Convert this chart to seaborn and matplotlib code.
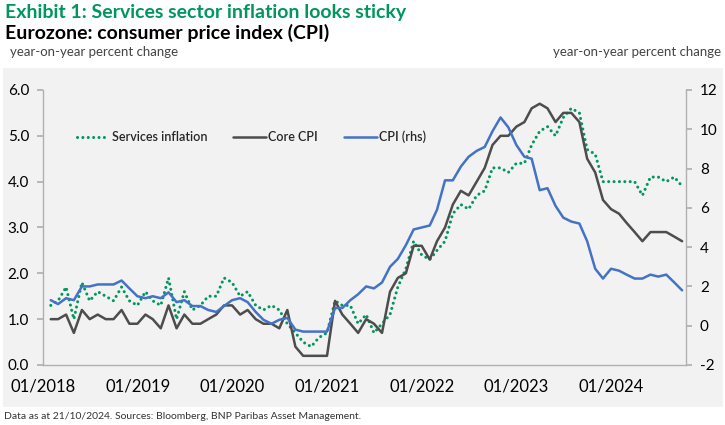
import matplotlib
matplotlib.use("Agg")
import matplotlib.pyplot as plt
import matplotlib.dates as mdates
from matplotlib.patches import Rectangle
from matplotlib.lines import Line2D
import numpy as np
import pandas as pd
import seaborn as sns

# monthly data, Jan 2018 - Sep 2024 (month-end)
months = pd.date_range("2018-01-31", "2024-09-30", freq="ME")

services = [1.3, 1.4, 1.7, 1.0, 1.8, 1.4, 1.6, 1.5, 1.4, 1.7, 1.4, 1.3,
            1.6, 1.4, 1.3, 1.9, 1.0, 1.6, 1.2, 1.3, 1.5, 1.5, 1.9, 1.8,
            1.5, 1.6, 1.3, 1.2, 1.3, 1.2, 0.9, 0.7, 0.5, 0.4, 0.6, 0.7,
            1.4, 1.3, 1.3, 0.9, 1.1, 0.7, 0.9, 1.1, 1.7, 2.1, 2.7, 2.4,
            2.3, 2.5, 2.7, 3.3, 3.5, 3.4, 3.7, 3.8, 4.3, 4.3, 4.2, 4.4,
            4.4, 4.8, 5.1, 5.2, 5.0, 5.4, 5.6, 5.5, 4.7, 4.6, 4.0, 4.0,
            4.0, 4.0, 4.0, 3.7, 4.1, 4.1, 4.0, 4.1, 3.9]

core = [1.0, 1.0, 1.1, 0.7, 1.2, 1.0, 1.1, 1.0, 1.0, 1.2, 0.9, 0.9,
        1.1, 1.0, 0.8, 1.3, 0.8, 1.1, 0.9, 0.9, 1.0, 1.1, 1.3, 1.3,
        1.1, 1.2, 1.0, 0.9, 0.9, 0.8, 1.2, 0.4, 0.2, 0.2, 0.2, 0.2,
        1.4, 1.1, 0.9, 0.7, 1.0, 0.9, 0.7, 1.6, 1.9, 2.0, 2.6, 2.6,
        2.3, 2.7, 3.0, 3.5, 3.8, 3.7, 4.0, 4.3, 4.8, 5.0, 5.0, 5.2,
        5.3, 5.6, 5.7, 5.6, 5.3, 5.5, 5.5, 5.3, 4.5, 4.2, 3.6, 3.4,
        3.3, 3.1, 2.9, 2.7, 2.9, 2.9, 2.9, 2.8, 2.7]

cpi = [1.3, 1.1, 1.4, 1.3, 2.0, 2.0, 2.1, 2.1, 2.1, 2.3, 1.9, 1.5,
       1.4, 1.5, 1.4, 1.7, 1.2, 1.3, 1.0, 1.0, 0.8, 0.7, 1.0, 1.3,
       1.4, 1.2, 0.7, 0.3, 0.1, 0.3, 0.4, -0.2, -0.3, -0.3, -0.3, -0.3,
       0.9, 0.9, 1.3, 1.6, 2.0, 1.9, 2.2, 3.0, 3.4, 4.1, 4.9, 5.0,
       5.1, 5.9, 7.4, 7.4, 8.1, 8.6, 8.9, 9.1, 9.9, 10.6, 10.1, 9.2,
       8.6, 8.5, 6.9, 7.0, 6.1, 5.5, 5.3, 5.2, 4.3, 2.9, 2.4, 2.9,
       2.8, 2.6, 2.4, 2.4, 2.6, 2.5, 2.6, 2.2, 1.8]

left_ticks = [0, 1, 2, 3, 4, 5, 6]
right_ticks = [-2, 0, 2, 4, 6, 8, 10, 12]

GREEN = "#00965e"
GREY = "#4d4d4d"
BLUE = "#4472c4"
AXCOL = "#b0b0b0"
DOTS = (0, (0.01, 1.75))

sns.set_theme(style="white")
plt.rcParams["font.family"] = ["Lato", "DejaVu Sans"]

df = pd.DataFrame({"date": months, "services": services, "core": core, "cpi": cpi})

fig = plt.figure(figsize=(7.25, 4.25), dpi=100)
fig.patch.set_facecolor("white")
fig.patches.append(Rectangle((0.004, 0.042), 0.993, 0.798, transform=fig.transFigure,
                             facecolor="#f2f2f2", edgecolor="none", zorder=-10))

ax = fig.add_axes([0.0593, 0.1412, 0.8869, 0.6471])
ax.set_facecolor("none")
ax2 = ax.twinx()
ax2.set_facecolor("none")

sns.lineplot(data=df, x="date", y="services", ax=ax, color=GREEN, lw=2.2)
ax.lines[-1].set_linestyle(DOTS)
ax.lines[-1].set_dash_capstyle("round")
sns.lineplot(data=df, x="date", y="core", ax=ax, color=GREY, lw=1.8)
sns.lineplot(data=df, x="date", y="cpi", ax=ax2, color=BLUE, lw=1.8)

ax.set_xlim(pd.Timestamp("2018-01-01"), pd.Timestamp("2024-10-15"))
ax.set_ylim(0, 6)
ax2.set_ylim(-2, 12)
ax.set_yticks(left_ticks)
ax.set_yticklabels([f"{v:.1f}" for v in left_ticks])
ax2.set_yticks(right_ticks)
ax2.set_yticklabels([str(v) for v in right_ticks])

ax.xaxis.set_major_locator(mdates.YearLocator())
ax.xaxis.set_major_formatter(mdates.DateFormatter("%m/%Y"))
ax.xaxis.set_minor_locator(mdates.MonthLocator(bymonth=7))

for a in (ax, ax2):
    a.set_xlabel("")
    a.set_ylabel("")
    a.spines["top"].set_visible(False)
    for s in ("left", "right", "bottom"):
        a.spines[s].set_color(AXCOL)
        a.spines[s].set_linewidth(1.0)
ax.spines["right"].set_visible(False)
ax2.spines["left"].set_visible(False)
ax2.spines["bottom"].set_visible(False)

ax.tick_params(axis="x", which="both", direction="out", length=4, color=AXCOL,
               labelsize=12, pad=6, labelcolor="black")
ax.tick_params(axis="y", direction="out", length=4, color=AXCOL, labelsize=11,
               pad=6, labelcolor="black", left=True)
ax2.tick_params(axis="y", direction="out", length=4, color=AXCOL, labelsize=11,
                pad=6, labelcolor="black", right=True)
ax.grid(False)
ax2.grid(False)

handles = [
    Line2D([], [], color=GREEN, lw=2.2, linestyle=DOTS, dash_capstyle="round"),
    Line2D([], [], color=GREY, lw=1.8),
    Line2D([], [], color=BLUE, lw=1.8),
]
ax2.legend(handles, ["Services inflation", "Core CPI", "CPI (rhs)"], ncol=3,
           loc="center left", bbox_to_anchor=(0.035, 0.83), frameon=False,
           prop={"size": 9, "weight": "semibold"},
           handlelength=2.6, handletextpad=0.2, columnspacing=2.1)

fig.text(0.007, 0.99, "Exhibit 1: Services sector inflation looks sticky", color=GREEN,
         fontsize=14, fontweight="bold", va="top", ha="left")
fig.text(0.007, 0.943, "Eurozone: consumer price index (CPI)", color="black",
         fontsize=14, fontweight="bold", va="top", ha="left")
fig.text(0.014, 0.892, "year-on-year percent change", color="#444444",
         fontsize=9.5, va="top", ha="left")
fig.text(0.994, 0.892, "year-on-year percent change", color="#444444",
         fontsize=9.5, va="top", ha="right")
fig.text(0.005, 0.019, "Data as at 21/10/2024. Sources: Bloomberg, BNP Paribas Asset Management.",
         color="#333333", fontsize=7.5, va="center", ha="left")

fig.savefig("out.png", dpi=100)
